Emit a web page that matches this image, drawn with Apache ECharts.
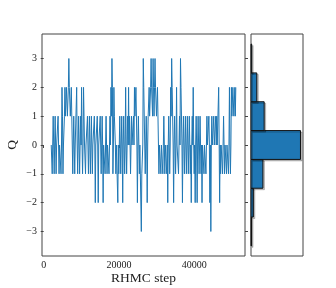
<!DOCTYPE html>
<html>
<head>
<meta charset="utf-8">
<script src="https://cdn.jsdelivr.net/npm/echarts@6/dist/echarts.min.js"></script>
<style>
  html, body { margin: 0; padding: 0; background: #fff; }
  #chart { width: 336px; height: 288px; }
</style>
</head>
<body>
<div id="chart"></div>
<script>
// trace: first step and spacing between stored samples
const startStep = 2000
const stepStride = 130

// topological charge, left to right
const qTrace = [
  0, 0, -1, 0,
  1, 0, -1, 0, 1, 0, -1, 0, 0, 0, 1, 0, -1, 0,
  0, 0, -1, 0,
  2, 1, -1, 0,
  0, 1, 2, 1,
  1, 2, 2, 1, 1, 2, 3, 2, 2, 1,
  1, 2, 2, 0, -1, 0,
  1, 0, -1, 0, 0, 0,
  2, 0,
  -1, 0, 1, 0, -1, 0, 1, 0,
  2, 0, -1, 0, 2, 1,
  0, 0, -1, 0, 0, 0,
  1, 0, -1, 0, 1, 0, -1, 0, 1, 0, -1, 0, 0, 0, 1, 0,
  -2, 0, 0, 0,
  1, 0, -2, 0, 0, 0,
  1, 0, -1, 0, 1, 0, -2, 0,
  0, 0, -1, 0, 1, 0, -1, 0, 0, 0, -1, 0, 1, 0,
  2, 1, 3, 2, -1, 0, 2, 1,
  1, 0, -1, 0, 0, 0,
  -2, 0, -1, 0,
  1, 0, -1, 0, 1, 0, -2, 0, 1, 0, -1, 0,
  2, 0, -1, 0, 1, 0, 2, 0,
  1, 0, -1, 0, 1, 0, 0, 0, 1, 0, 2, 1,
  1, 2, 2, 0, -2, 0, 1, 0,
  -1, 0, 0, 0,
  -3, -1, -1, 0,
  3, 2, 2, 0,
  -1, 0, 1, 0, -2, 0, 1, 1,
  2, 1, 1, 2, 3, 2, 2, 1, 3, 2, 1, 2, 3, 2, 2, 1, 1, 2,
  2, 0, -1, 0, 0, 0,
  -1, 0, 0, 0, -1, 0, 1, 0, -1, 0, 0, 0, -1, 0,
  -2, 0,
  1, 0, -1, 0, 2, 1, 3, 2,
  2, 0, -2, 0, 1, 0,
  -1, 0, 2, 0, 0, 0, -1, 0, 1, 0,
  3, 2, 2, 0,
  -2, 0, 1, 0,
  -1, 0, 1, 0, -1, 0, 1, 0, -1, 0, 1, 0,
  -1, 0, -2, 0,
  1, 0, 2, 0, -1, 0, -2, 0, 1, 0, -2, 0,
  1, 0, -1, 0, 1, 0, -1, 0, -2, 0,
  0, 0, -1, 0, 0, 0, -1, 0,
  1, 0, 0, 0, 1, 0, -2, 0,
  -3, 0,
  1, 0, 0, 0, 1, 0, 0, 0, 1, 0, 1, 0, 0, 0,
  2, 0, -2, 0,
  -1, 0, 0, 0, -1, 0, 1, 0,
  -1, 0, 0, 0, -1, 0, 0, 0, -1, 0,
  2, 0, -1, 0, 2, 1,
  1, 2, 2, 1, 1, 2, 1, 2
]

// histogram bins (Q value) and counts
const histBins = [-3, -2, -1, 0, 1, 2, 3]
const histCounts = [6, 28, 142, 590, 157, 69, 8]

// tick labels
const qTicks = [-3, -2, -1, 0, 1, 2, 3]
const stepTicks = [0, 20000, 40000]

const traceData = qTrace.map((q, i) => [startStep + i * stepStride, q])
const histData = histBins.map((b, i) => [histCounts[i], b])

const font = '"Liberation Serif", "DejaVu Serif", serif'
const textColor = '#222'
const lineColor = '#444'
const blue = '#1f77b4'

const chart = echarts.init(document.getElementById('chart'), null, { renderer: 'canvas' })

chart.setOption({
  animation: false,
  grid: [
    { left: 42, top: 34, right: 91, bottom: 32, outerBoundsMode: 'none', show: true, borderColor: lineColor, borderWidth: 1 },
    { left: 251, top: 34, right: 33, bottom: 32, outerBoundsMode: 'none', show: true, borderColor: lineColor, borderWidth: 1 }
  ],
  xAxis: [
    {
      gridIndex: 0,
      type: 'value',
      min: -450,
      max: 53450,
      name: 'RHMC step',
      nameLocation: 'middle',
      nameMoveOverlap: false,
      nameGap: 15,
      nameTextStyle: { fontFamily: font, fontSize: 13.5, color: textColor },
      axisLine: { show: false },
      splitLine: { show: false },
      axisTick: { show: true, length: 3, lineStyle: { color: lineColor }, customValues: stepTicks },
      axisLabel: { fontFamily: font, fontSize: 10, color: textColor, margin: 4, customValues: stepTicks, formatter: (v) => String(v) }
    },
    {
      gridIndex: 1,
      type: 'value',
      min: 0,
      max: 620,
      show: false
    }
  ],
  yAxis: [
    {
      gridIndex: 0,
      type: 'value',
      min: -3.85,
      max: 3.85,
      name: 'Q',
      nameLocation: 'middle',
      nameMoveOverlap: false,
      nameGap: 23,
      nameTextStyle: { fontFamily: font, fontSize: 13.5, color: textColor },
      axisLine: { show: false },
      splitLine: { show: false },
      axisTick: { show: true, length: 3, lineStyle: { color: lineColor }, customValues: qTicks },
      axisLabel: {
        fontFamily: font,
        fontSize: 10,
        color: textColor,
        margin: 5,
        customValues: qTicks,
        formatter: (v) => String(v).replace('-', '\u2212')
      }
    },
    {
      // short ticks just outside the right edge of the trace panel
      gridIndex: 0,
      type: 'value',
      position: 'right',
      min: -3.85,
      max: 3.85,
      axisLine: { show: false },
      splitLine: { show: false },
      axisTick: { show: true, length: 3, lineStyle: { color: lineColor }, customValues: qTicks },
      axisLabel: { show: false }
    },
    {
      gridIndex: 1,
      type: 'value',
      min: -3.85,
      max: 3.85,
      show: false
    }
  ],
  series: [
    {
      type: 'line',
      xAxisIndex: 0,
      yAxisIndex: 0,
      data: traceData,
      step: 'end',
      showSymbol: false,
      lineStyle: { color: blue, width: 1 }
    },
    {
      // horizontal histogram, bins one unit wide centred on each Q
      type: 'custom',
      xAxisIndex: 1,
      yAxisIndex: 2,
      data: histData,
      renderItem: (params, api) => {
        const q = api.value(1)
        const p0 = api.coord([0, q + 0.5])
        const p1 = api.coord([api.value(0), q - 0.5])
        return {
          type: 'rect',
          shape: { x: p0[0], y: p0[1], width: p1[0] - p0[0], height: p1[1] - p0[1] },
          style: {
            fill: blue,
            stroke: '#111',
            lineWidth: 1,
            shadowColor: 'rgba(0, 0, 0, 0.22)',
            shadowBlur: 0,
            shadowOffsetX: 1.5,
            shadowOffsetY: 1.5
          }
        }
      }
    }
  ]
})
</script>
</body>
</html>
